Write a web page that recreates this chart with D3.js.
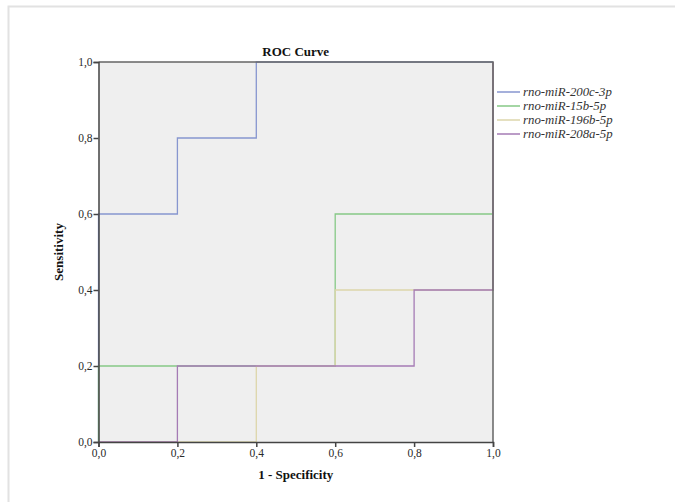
<!DOCTYPE html>
<html>
<head>
<meta charset="utf-8">
<script src="https://cdn.jsdelivr.net/npm/d3@7"></script>
<style>
  body { margin: 0; background: #fff; }
  svg text { font-family: "Liberation Serif", "Times New Roman", serif; }
</style>
</head>
<body>
<svg id="chart" width="675" height="502"></svg>
<script>
// series names, in legend order
var seriesNames = ["rno-miR-200c-3p", "rno-miR-15b-5p", "rno-miR-196b-5p", "rno-miR-208a-5p"];
var seriesColors = ["#8796cf", "#86c986", "#ddd6ab", "#a57bb5"];

// step points of each ROC curve (1 - specificity, sensitivity)
var fpr200c = [0, 0, 0.2, 0.2, 0.4, 0.4, 1];
var tpr200c = [0, 0.6, 0.6, 0.8, 0.8, 1, 1];

var fpr15b = [0, 0, 0.6, 0.6, 1, 1];
var tpr15b = [0, 0.2, 0.2, 0.6, 0.6, 1];

var fpr196b = [0, 0.4, 0.4, 0.6, 0.6, 1, 1];
var tpr196b = [0, 0, 0.2, 0.2, 0.4, 0.4, 1];

var fpr208a = [0, 0.2, 0.2, 0.8, 0.8, 1, 1];
var tpr208a = [0, 0, 0.2, 0.2, 0.4, 0.4, 1];

var tickValues = [0, 0.2, 0.4, 0.6, 0.8, 1.0];

var svg = d3.select("#chart");

// outer light frame
svg.append("rect")
   .attr("x", 8.5).attr("y", 6.5)
   .attr("width", 700).attr("height", 600)
   .style("fill", "none")
   .style("stroke", "#e2e2e2")
   .style("stroke-width", 2);

var plot = {left: 98.5, right: 493, top: 62, bottom: 442};

var x = d3.scaleLinear().domain([0, 1]).range([plot.left, plot.right]);
var y = d3.scaleLinear().domain([0, 1]).range([plot.bottom, plot.top]);

// grey plot background
svg.append("rect")
   .attr("x", plot.left).attr("y", plot.top)
   .attr("width", plot.right - plot.left)
   .attr("height", plot.bottom - plot.top)
   .style("fill", "#efefef");

// build series
var series = [
  {name: seriesNames[0], fpr: fpr200c, tpr: tpr200c},
  {name: seriesNames[1], fpr: fpr15b, tpr: tpr15b},
  {name: seriesNames[2], fpr: fpr196b, tpr: tpr196b},
  {name: seriesNames[3], fpr: fpr208a, tpr: tpr208a}
];
series.forEach(function(s, i) {
  s.color = seriesColors[i];
  s.points = s.fpr.map(function(f, j) { return [f, s.tpr[j]]; });
});

var line = d3.line()
             .x(function(d) { return x(d[0]); })
             .y(function(d) { return y(d[1]); });

svg.append("g")
   .selectAll("path.roc")
   .data(series)
   .enter()
   .append("path")
   .attr("class", "roc")
   .attr("d", function(d) { return line(d.points); })
   .style("fill", "none")
   .style("stroke", function(d) { return d.color; })
   .style("stroke-width", 1.3);

// top and right frame of plot
svg.append("path")
   .attr("d", "M" + plot.left + "," + plot.top + "H" + plot.right + "V" + plot.bottom)
   .style("fill", "none")
   .style("stroke", "#666")
   .style("stroke-width", 1.5);

var fmt = function(d) { return d3.format(".1f")(d).replace(".", ","); };

// x axis
var xAxis = svg.append("g")
   .attr("transform", "translate(0," + plot.bottom + ")")
   .call(d3.axisBottom(x).tickValues(tickValues).tickFormat(fmt).tickSize(5).tickPadding(2));

// y axis
var yAxis = svg.append("g")
   .attr("transform", "translate(" + plot.left + ",0)")
   .call(d3.axisLeft(y).tickValues(tickValues).tickFormat(fmt).tickSize(5).tickPadding(1));

[xAxis, yAxis].forEach(function(a) {
  a.select(".domain").style("stroke", "#444").style("stroke-width", 1.5);
  a.selectAll(".tick line").style("stroke", "#444").style("stroke-width", 1.5);
  a.selectAll(".tick text")
   .style("font-family", "'Liberation Serif', serif")
   .style("font-size", "11.5px")
   .style("fill", "#2a2a2a");
});

// title and axis labels
svg.append("text")
   .attr("x", (plot.left + plot.right) / 2)
   .attr("y", 56)
   .attr("text-anchor", "middle")
   .style("font-size", "13px")
   .style("font-weight", "bold")
   .style("fill", "#111")
   .text("ROC Curve");

svg.append("text")
   .attr("x", (plot.left + plot.right) / 2)
   .attr("y", 479)
   .attr("text-anchor", "middle")
   .style("font-size", "13px")
   .style("font-weight", "bold")
   .style("fill", "#111")
   .text("1 - Specificity");

svg.append("text")
   .attr("transform", "translate(63," + (plot.top + plot.bottom) / 2 + ") rotate(-90)")
   .attr("text-anchor", "middle")
   .style("font-size", "13px")
   .style("font-weight", "bold")
   .style("fill", "#111")
   .text("Sensitivity");

// legend
var legend = svg.append("g")
   .selectAll("g.item")
   .data(series)
   .enter()
   .append("g")
   .attr("class", "item")
   .attr("transform", function(d, i) { return "translate(497," + (92 + i * 14) + ")"; });

legend.append("line")
   .attr("x1", 0).attr("x2", 23)
   .style("stroke", function(d) { return d.color; })
   .style("stroke-width", 1.5);

legend.append("text")
   .attr("x", 26)
   .attr("dy", "0.33em")
   .style("font-size", "12.8px")
   .style("font-style", "italic")
   .style("fill", "#333")
   .text(function(d) { return d.name; });
</script>
</body>
</html>
